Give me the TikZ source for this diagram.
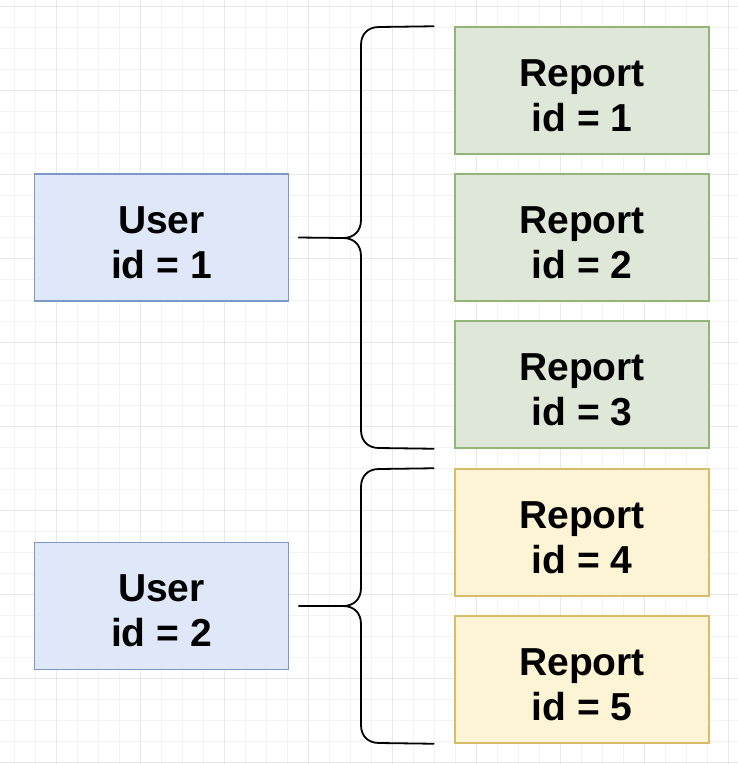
\documentclass[tikz,border=0pt]{standalone}
\usepackage{fontspec}
\setmainfont{Liberation Sans}
\definecolor{gridminor}{HTML}{F3F3F3}
\definecolor{gridmajor}{HTML}{E8E8E8}
\definecolor{userfill}{HTML}{DEE8F8}
\definecolor{userdraw}{HTML}{7D98C4}
\definecolor{greenfill}{HTML}{DFE7D8}
\definecolor{greendraw}{HTML}{93B57A}
\definecolor{yellowfill}{HTML}{FDF3D5}
\definecolor{yellowdraw}{HTML}{D8BC6A}
\tikzset{
  box/.style={rectangle, minimum width=254pt, minimum height=127pt, inner sep=0pt,
    line width=1.5pt},
  userbox/.style={box, fill=userfill, draw=userdraw},
  greenbox/.style={box, fill=greenfill, draw=greendraw},
  yellowbox/.style={box, fill=yellowfill, draw=yellowdraw},
  boxtext/.style={align=center, font=\bfseries\fontsize{39}{45}\selectfont, inner sep=0pt},
  bracepath/.style={line width=1.8pt, black}
}
\begin{document}
\begin{tikzpicture}[x=1pt,y=-1pt]
\useasboundingbox (0,0) rectangle (738,764);
\fill[white] (0,0) rectangle (738,764);
% grid
\foreach \i in {0,...,34} {
  \draw[gridminor, line width=0.8pt] ({14+21*\i},0) -- ({14+21*\i},764);
}
\foreach \i in {0,...,36} {
  \draw[gridminor, line width=0.8pt] (0,{6+21*\i}) -- (738,{6+21*\i});
}
\foreach \i in {0,...,8} {
  \draw[gridmajor, line width=0.8pt] ({56+84*\i},0) -- ({56+84*\i},764);
}
\foreach \i in {0,...,9} {
  \draw[gridmajor, line width=0.8pt] (0,{6+84*\i}) -- (738,{6+84*\i});
}
% boxes
\node[userbox] (u1) at (161.5,237.5) {};
\node[userbox] (u2) at (161.5,606) {};
\node[greenbox] (r1) at (582,90.5) {};
\node[greenbox] (r2) at (582,237.5) {};
\node[greenbox] (r3) at (582,384.5) {};
\node[yellowbox] (r4) at (582,532.5) {};
\node[yellowbox] (r5) at (582,679.5) {};
\foreach \n/\t in {u1/User\\id = 1, u2/User\\id = 2, r1/Report\\id = 1, r2/Report\\id = 2,
  r3/Report\\id = 3, r4/Report\\id = 4, r5/Report\\id = 5} {
  \node[boxtext] (\n t) at ([yshift=-5pt]\n.center) {\t};
}
% brace 1
\coordinate (b1s) at ([xshift=9pt]u1.east);
\coordinate (b1t) at ([xshift=-20pt]r1.north west);
\coordinate (b1b) at ([xshift=-20pt]r3.south west);
\draw[bracepath] (b1s) -- (343,238) .. controls (354,238) and (361,231) .. (361,220)
  -- (361,45) .. controls (361,34) and (368,27) .. (379,27) -- (b1t);
\draw[bracepath] (343,238) .. controls (354,238) and (361,245) .. (361,256)
  -- (361,430) .. controls (361,441) and (368,448) .. (379,448) -- (b1b);
% brace 2
\coordinate (b2s) at ([xshift=9pt]u2.east);
\coordinate (b2t) at ([xshift=-20pt]r4.north west);
\coordinate (b2b) at ([xshift=-20pt]r5.south west);
\draw[bracepath] (b2s) -- (343,606) .. controls (354,606) and (361,599) .. (361,588)
  -- (361,487) .. controls (361,476) and (368,469) .. (379,469) -- (b2t);
\draw[bracepath] (343,606) .. controls (354,606) and (361,613) .. (361,624)
  -- (361,725) .. controls (361,736) and (368,743) .. (379,743) -- (b2b);
\end{tikzpicture}
\end{document}
